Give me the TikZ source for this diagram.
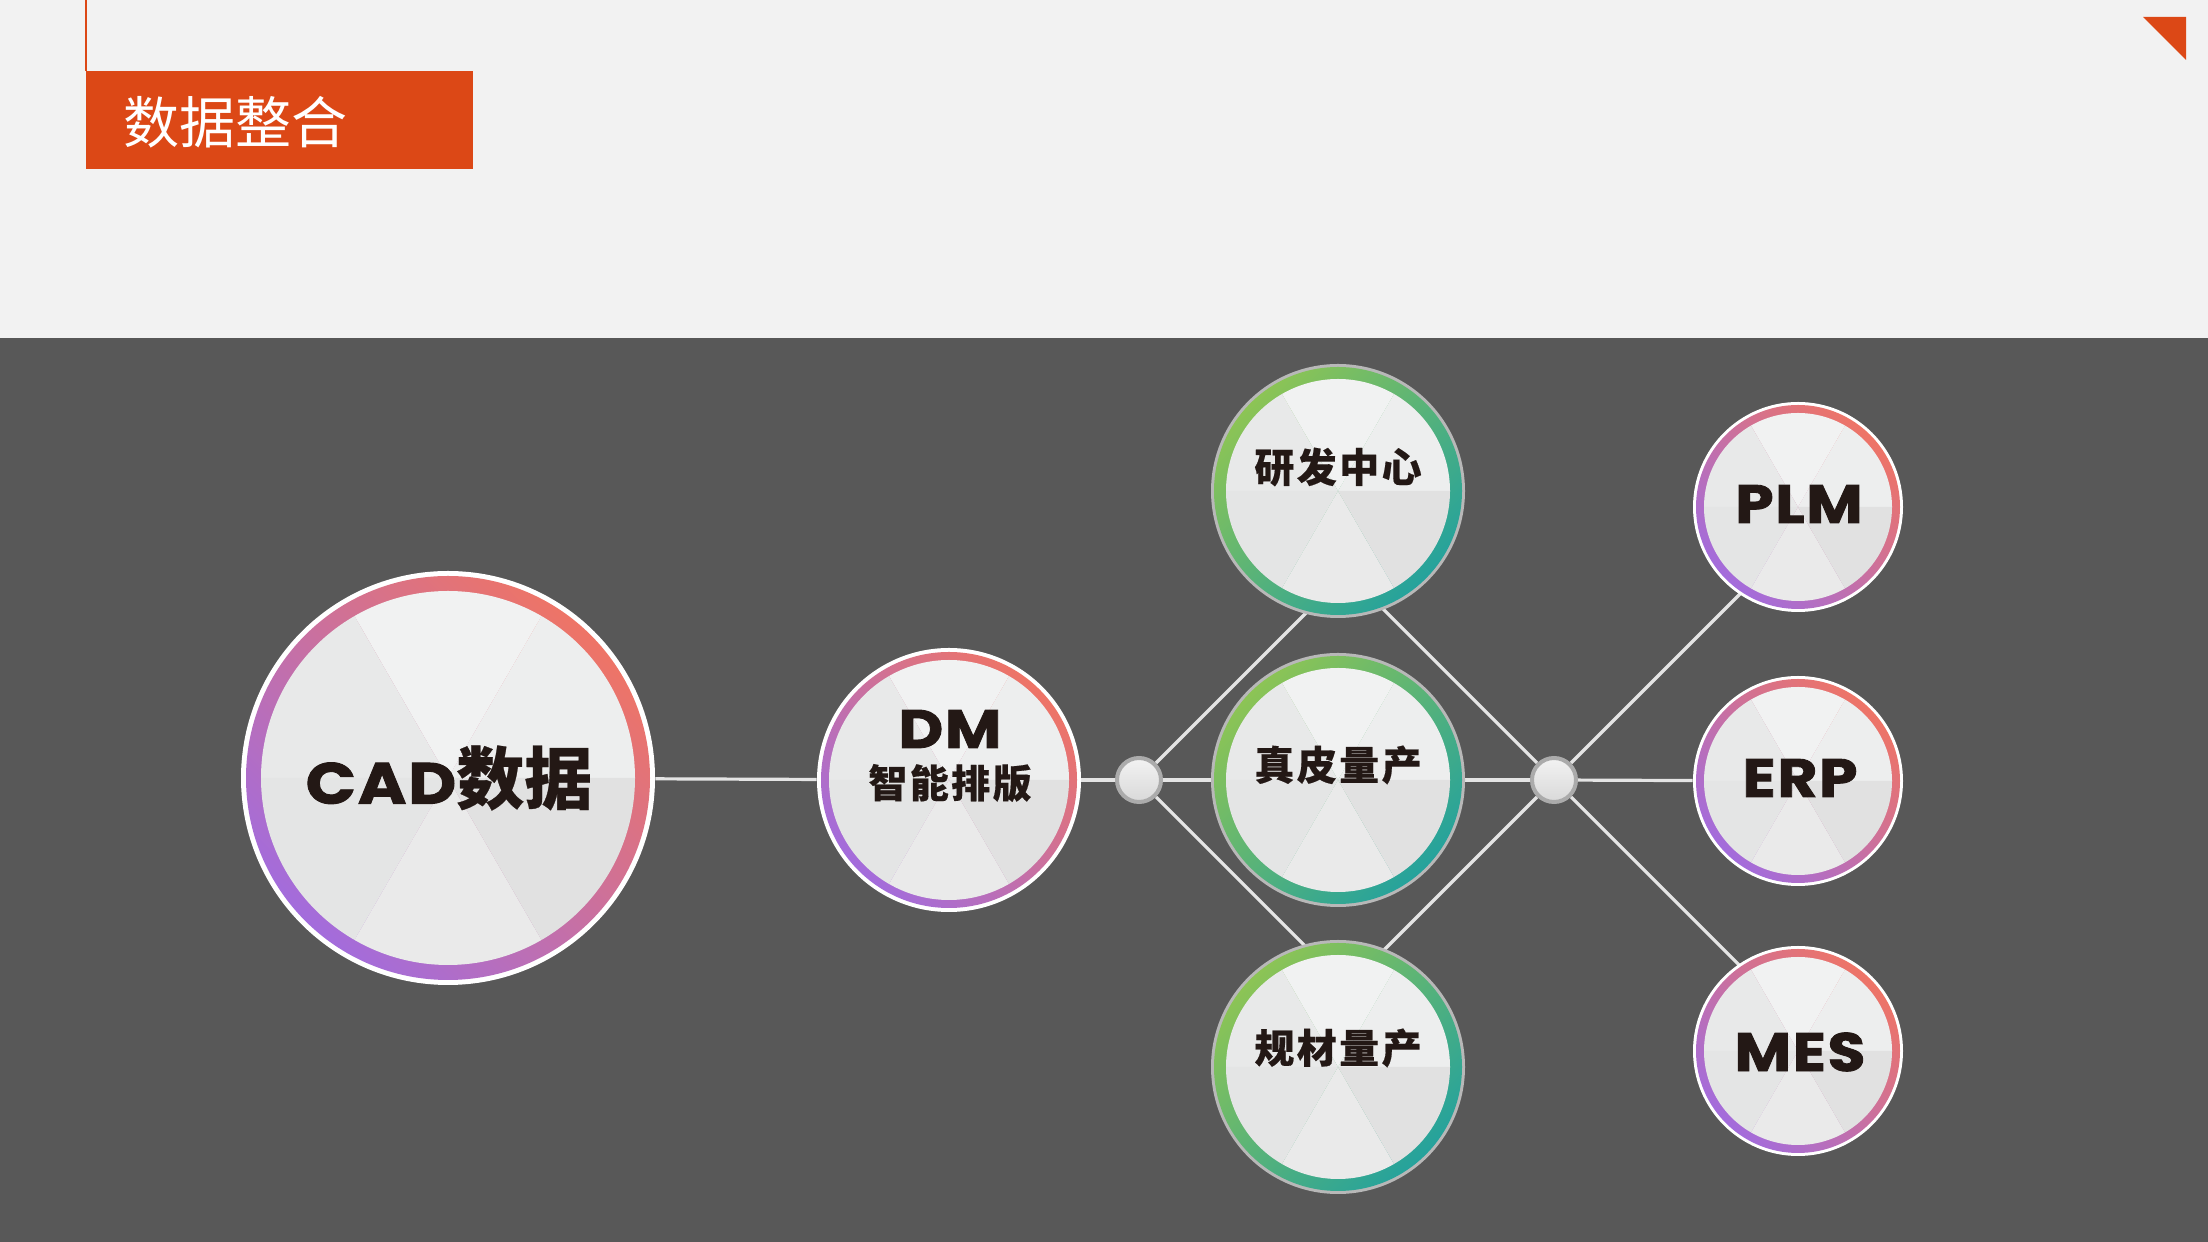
\documentclass[tikz,border=0pt]{standalone}
\usepackage{fontspec}
\newfontfamily\cjk{Noto Sans CJK SC}
\newfontfamily\cjkb{Noto Sans CJK SC}[BoldFeatures={FakeBold=0.4}]
\newfontfamily\lat{Poppins}[BoldFeatures={FakeBold=1.6, FakeStretch=1.14}, LetterSpace=3]
\definecolor{darkbg}{HTML}{585858}
\definecolor{lightbg}{HTML}{F2F2F2}
\definecolor{orng}{HTML}{DC4816}
\definecolor{coral}{HTML}{EE7466}
\definecolor{purp}{HTML}{A36CDC}
\definecolor{grn}{HTML}{8CC455}
\definecolor{teal}{HTML}{25A29C}
\definecolor{ink}{HTML}{231815}
\definecolor{lnk}{HTML}{E4E4E4}
\definecolor{sa}{HTML}{EDEEEE}
\definecolor{sb}{HTML}{F1F2F2}
\definecolor{sc}{HTML}{E8E9E9}
\definecolor{sd}{HTML}{E4E5E5}
\definecolor{se}{HTML}{EAEAEA}
\definecolor{sf}{HTML}{E1E1E1}
\pgfdeclarelayer{bg}
\pgfdeclarelayer{conn}
\pgfsetlayers{bg,conn,main}
\tikzset{
  pinkring/.style={top color=coral, bottom color=purp, shading angle=-45},
  greenring/.style={top color=grn, bottom color=teal, shading angle=45},
  link/.style={draw=lnk, line width=1.6pt},
  junction/.style={circle, minimum size=22pt, inner sep=0pt, draw=black!33, line width=2pt, top color=white!95!black, bottom color=black!15},
  lbl/.style={inner sep=0pt, text=ink, align=center},
  latlbl/.style={lbl, font=\lat\bfseries\fontsize{27pt}{30pt}\selectfont},
  cjklbl/.style={lbl, font=\cjkb\bfseries\fontsize{20pt}{22pt}\selectfont},
}
\newcommand\cjksp{\kern1.2pt}
% #1 name, #2 centre, #3 outer r, #4 ring r, #5 disk r, #6 rim colour, #7 ring style
\newcommand\ringnode[7]{%
  \fill[#6] #2 circle[radius=#3];
  \shade[#7] #2 circle[radius=#4];
  \foreach \a/\c in {0/sa,60/sb,120/sc,180/sd,240/se,300/sf}
    \fill[\c] #2 -- ++(\a:#5) arc[start angle=\a, delta angle=60, radius=#5] -- cycle;
  \node[circle, minimum size=#3pt, inner sep=0pt] (#1) at #2 {};
}
\begin{document}
\begin{tikzpicture}[x=0.5pt, y=0.5pt]
\useasboundingbox (0,0) rectangle (2208,1242);
\begin{pgfonlayer}{bg}
  \fill[darkbg] (0,0) rectangle (2208,1242);
  \fill[lightbg] (0,904) rectangle (2208,1242);
  \draw[orng, line width=1pt] (86,1242) -- (86,1171);
  \fill[orng] (86,1073) rectangle (473,1171);
  \fill[orng] (2143,1225) -- (2186,1225) -- (2186,1182) -- cycle;
\end{pgfonlayer}
\node[anchor=west, inner sep=0pt, text=white, font=\cjk\fontsize{28pt}{30pt}\selectfont] (title) at (123,1120) {数据整合};

% circles
\ringnode{cad}{(448,464)}{207}{202}{187}{white}{pinkring}
\ringnode{dm}{(949,462)}{132}{128}{120}{white}{pinkring}
\ringnode{rd}{(1338,751)}{127}{124}{112}{black!28}{greenring}
\ringnode{zp}{(1338,462)}{127}{124}{112}{black!28}{greenring}
\ringnode{gc}{(1338,175)}{127}{124}{112}{black!28}{greenring}
\ringnode{plm}{(1798,735)}{105}{102}{94}{white}{pinkring}
\ringnode{erp}{(1798,461)}{105}{102}{94}{white}{pinkring}
\ringnode{mes}{(1798,191)}{105}{102}{94}{white}{pinkring}
\node[junction] (j1) at (1139,462) {};
\node[junction] (j2) at (1554,462) {};
\coordinate (apexT) at (1346.5,669.5);
\coordinate (apexB) at (1346.5,254.5);
\coordinate (toPLM) at (1827,735);
\coordinate (toMES) at (1827,189);

% labels
\node[lbl] (cadt) at (449,464) {{\lat\bfseries\fontsize{29pt}{30pt}\selectfont CAD}{\cjkb\bfseries\fontsize{34pt}{36pt}\selectfont 数据}};
\node[latlbl] (dmt) at (950,513) {DM};
\node[lbl, font=\cjkb\bfseries\fontsize{19.5pt}{22pt}\selectfont] (dmt2) at (950,459) {智\cjksp 能\cjksp 排\cjksp 版};
\node[cjklbl] (rdt) at (1338,775) {研\cjksp 发\cjksp 中\cjksp 心};
\node[cjklbl] (zpt) at (1338,477) {真\cjksp 皮\cjksp 量\cjksp 产};
\node[cjklbl] (gct) at (1338,194) {规\cjksp 材\cjksp 量\cjksp 产};
\node[latlbl] (plmt) at (1799,738) {PLM};
\node[latlbl] (erpt) at (1800,464) {ERP};
\node[latlbl] (mest) at (1800,190) {MES};

% connectors
\begin{pgfonlayer}{conn}
  \draw[link] (cad) -- (dm);
  \draw[link] (dm) -- (j1);
  \draw[link] (j1) -- (zp);
  \draw[link] (zp) -- (j2);
  \draw[link] (j2) -- (erp);
  \draw[link] (j1) -- (apexT) -- (j2);
  \draw[link] (j1) -- (apexB) -- (j2);
  \draw[link] (j2) -- (toPLM);
  \draw[link] (j2) -- (toMES);
\end{pgfonlayer}
\end{tikzpicture}
\end{document}
